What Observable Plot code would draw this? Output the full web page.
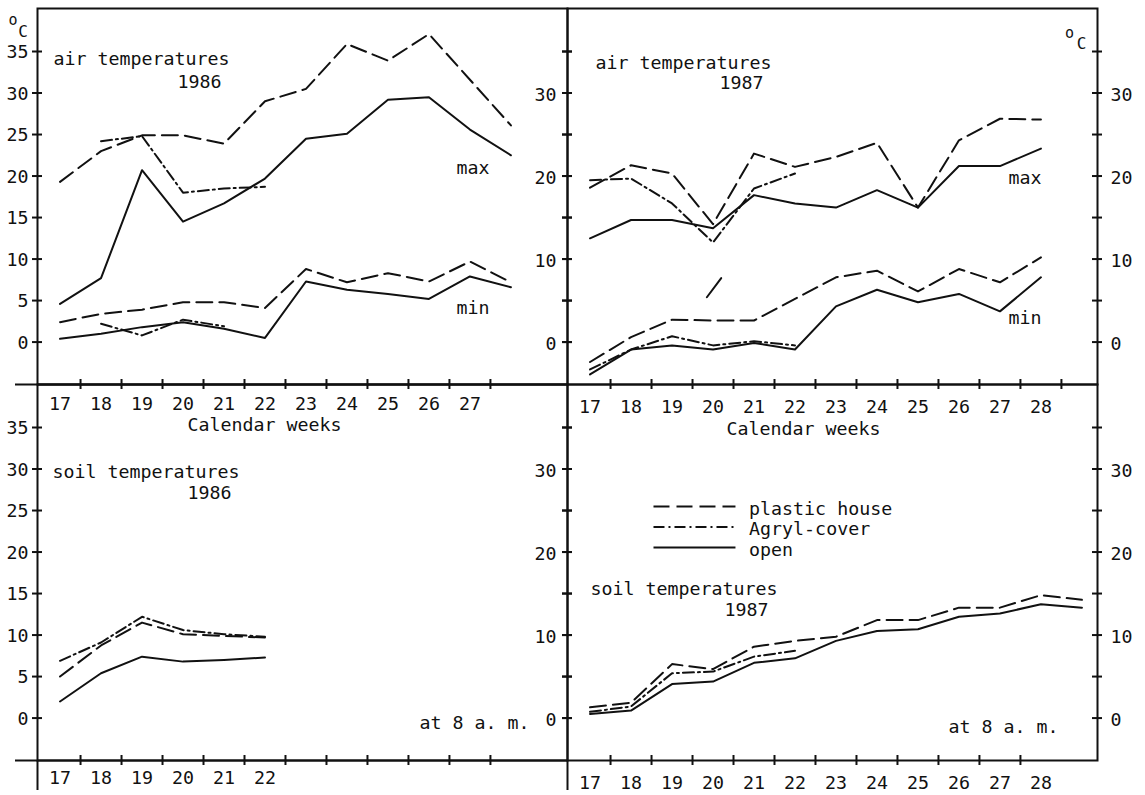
<!DOCTYPE html>
<html>
<head>
<meta charset="utf-8">
<script src="https://cdn.jsdelivr.net/npm/d3@7"></script>
<script src="https://cdn.jsdelivr.net/npm/@observablehq/plot@0.6"></script>
<style>
  html, body { margin: 0; padding: 0; background: #fff; }
  #chart { width: 1145px; height: 795px; }
</style>
</head>
<body>
<div id="chart"></div>
<script>
// ---------------- DATA ----------------
const years = [1986, 1987];
const kinds = ["air", "soil"];

const weeks1986 = [17, 18, 19, 20, 21, 22, 23, 24, 25, 26, 27, 28];
const weeks1987 = [17, 18, 19, 20, 21, 22, 23, 24, 25, 26, 27, 28];
const weeksSoil1986 = [17, 18, 19, 20, 21, 22];
const weeksSoil1987 = [17, 18, 19, 20, 21, 22, 23, 24, 25, 26, 27, 28, 29];

// air temperatures 1986
const air1986MaxPlastic = [19.3, 23.0, 24.9, 24.9, 23.9, 29.0, 30.5, 35.9, 33.9, 37.1, 31.6, 26.1];
const air1986MaxAgrylWeeks = [18, 19, 20, 21, 22];
const air1986MaxAgryl = [24.2, 24.8, 18.0, 18.5, 18.7];
const air1986MaxOpen = [4.6, 7.7, 20.7, 14.5, 16.7, 19.7, 24.5, 25.1, 29.2, 29.5, 25.6, 22.5];
const air1986MinPlastic = [2.4, 3.4, 3.9, 4.8, 4.8, 4.1, 8.8, 7.2, 8.3, 7.3, 9.7, 7.2];
const air1986MinAgrylWeeks = [18, 19, 20, 21];
const air1986MinAgryl = [2.2, 0.8, 2.7, 1.9];
const air1986MinOpen = [0.4, 1.0, 1.8, 2.4, 1.6, 0.5, 7.3, 6.3, 5.8, 5.2, 7.9, 6.6];

// air temperatures 1987
const air1987MaxPlastic = [18.6, 21.3, 20.3, 14.2, 22.7, 21.1, 22.3, 24.0, 16.2, 24.3, 26.9, 26.8];
const air1987MaxAgrylWeeks = [17, 18, 19, 20, 21, 22];
const air1987MaxAgryl = [19.5, 19.7, 16.7, 12.0, 18.5, 20.3];
const air1987MaxOpen = [12.5, 14.7, 14.7, 13.7, 17.7, 16.7, 16.2, 18.3, 16.2, 21.2, 21.2, 23.3];
const air1987MinPlastic = [-2.4, 0.6, 2.7, 2.6, 2.6, 5.2, 7.8, 8.6, 6.1, 8.8, 7.2, 10.2];
const air1987MinAgrylWeeks = [17, 18, 19, 20, 21, 22];
const air1987MinAgryl = [-3.3, -0.9, 0.7, -0.4, 0.1, -0.4];
const air1987MinOpen = [-3.9, -0.9, -0.4, -0.9, -0.1, -0.9, 4.3, 6.3, 4.8, 5.8, 3.7, 7.8];
// stray dash in the 1987 panel near week 20
const strayWeeks = [19.85, 20.2];
const strayValues = [5.4, 7.7];

// soil temperatures at 8 a.m.
const soil1986Plastic = [5.0, 8.75, 11.5, 10.1, 9.9, 9.7];
const soil1986Agryl = [6.9, 9.1, 12.2, 10.6, 10.1, 9.8];
const soil1986Open = [2.0, 5.4, 7.4, 6.8, 7.0, 7.3];
const soil1987Plastic = [1.3, 1.85, 6.5, 5.9, 8.6, 9.3, 9.8, 11.8, 11.8, 13.3, 13.3, 14.8, 14.25];
const soil1987AgrylWeeks = [17, 18, 19, 20, 21, 22];
const soil1987Agryl = [0.75, 1.4, 5.4, 5.6, 7.4, 8.1];
const soil1987Open = [0.5, 0.9, 4.1, 4.4, 6.65, 7.2, 9.3, 10.5, 10.7, 12.2, 12.6, 13.7, 13.3];

// axes
const yTicks = [0, 5, 10, 15, 20, 25, 30, 35];
const yLabelsLeft = [0, 5, 10, 15, 20, 25, 30, 35];
const yLabelsRight = [0, 10, 20, 30];
const xTicksAir1986 = [17.5, 18.5, 19.5, 20.5, 21.5, 22.5, 23.5, 24.5, 25.5, 26.5, 27.5];
const xTicksAir1987 = [17.5, 18.5, 19.5, 20.5, 21.5, 22.5, 23.5, 24.5, 25.5, 26.5, 27.5, 28.5];
const xTicksSoil1986 = [17.5, 18.5, 19.5, 20.5, 21.5, 22.5, 23.5, 24.5, 25.5, 26.5, 27.5];
const xTicksSoil1987 = [17.5, 18.5, 19.5, 20.5, 21.5, 22.5, 23.5, 24.5, 25.5, 26.5, 27.5];
const weekLabelsAir1986 = [17, 18, 19, 20, 21, 22, 23, 24, 25, 26, 27];
const weekLabelsAir1987 = [17, 18, 19, 20, 21, 22, 23, 24, 25, 26, 27, 28];
const weekLabelsSoil1986 = [17, 18, 19, 20, 21, 22];
const weekLabelsSoil1987 = [17, 18, 19, 20, 21, 22, 23, 24, 25, 26, 27, 28];

// texts
const titles = {air: "air temperatures", soil: "soil temperatures"};
const xTitle = "Calendar weeks";
const unitO = "o", unitC = "C";
const statLabels = ["max", "min"];
const timeNote = "at 8 a. m.";
const legendSeries = ["plastic", "agryl", "open"];
const legendLabels = ["plastic house", "Agryl-cover", "open"];

// ---------------- BUILD TABLES ----------------
const rows = [];
function add(year, kind, stat, series, weeks, values) {
  weeks.forEach((w, i) => rows.push({year, kind, stat, series, week: w, value: values[i]}));
}
add(1986, "air", "max", "plastic", weeks1986, air1986MaxPlastic);
add(1986, "air", "max", "agryl", air1986MaxAgrylWeeks, air1986MaxAgryl);
add(1986, "air", "max", "open", weeks1986, air1986MaxOpen);
add(1986, "air", "min", "plastic", weeks1986, air1986MinPlastic);
add(1986, "air", "min", "agryl", air1986MinAgrylWeeks, air1986MinAgryl);
add(1986, "air", "min", "open", weeks1986, air1986MinOpen);
add(1987, "air", "max", "plastic", weeks1987, air1987MaxPlastic);
add(1987, "air", "max", "agryl", air1987MaxAgrylWeeks, air1987MaxAgryl);
add(1987, "air", "max", "open", weeks1987, air1987MaxOpen);
add(1987, "air", "min", "plastic", weeks1987, air1987MinPlastic);
add(1987, "air", "min", "agryl", air1987MinAgrylWeeks, air1987MinAgryl);
add(1987, "air", "min", "open", weeks1987, air1987MinOpen);
add(1987, "air", "stray", "stray", strayWeeks, strayValues);
add(1986, "soil", "soil", "plastic", weeksSoil1986, soil1986Plastic);
add(1986, "soil", "soil", "agryl", weeksSoil1986, soil1986Agryl);
add(1986, "soil", "soil", "open", weeksSoil1986, soil1986Open);
add(1987, "soil", "soil", "plastic", weeksSoil1987, soil1987Plastic);
add(1987, "soil", "soil", "agryl", soil1987AgrylWeeks, soil1987Agryl);
add(1987, "soil", "soil", "open", weeksSoil1987, soil1987Open);

const xTickRows = [];
[[1986, "air", xTicksAir1986], [1987, "air", xTicksAir1987], [1986, "soil", xTicksSoil1986], [1987, "soil", xTicksSoil1987]]
  .forEach(([year, kind, arr]) => arr.forEach(w => xTickRows.push({year, kind, week: w})));

const yLeftRows = [], yMidRows = [], yRightRows = [];
kinds.forEach(kind => {
  yLabelsLeft.forEach(v => yLeftRows.push({year: 1986, kind, v}));
  yLabelsRight.forEach(v => yMidRows.push({year: 1986, kind, v}));
  yLabelsRight.forEach(v => yRightRows.push({year: 1987, kind, v}));
});

// ---------------- LAYOUT / STYLE ----------------
const W = 1145, H = 795;
const ML = 37, MR = 48, MT = 8, MB = 35;
const FW = (W - ML - MR) / 2;   // facet width
const FH = (H - MT - MB) / 2;   // facet height
const xDomain = [16.45, 29.38];
const yDomain = [-5.11, 40.18];
const INK = "#111";
const FS = 18.3;
const FONT = "DejaVu Sans Mono, Liberation Mono, monospace";
const dashes = {plastic: "16,7", agryl: "11,4,2,4", open: null, stray: null};
const TICK = 5;

function note(txt, year, kind, frameAnchor, dx, dy, extra = {}) {
  return Plot.text([txt], {
    fx: [year], fy: [kind], text: d => d, frameAnchor, dx, dy,
    textAnchor: "start", lineAnchor: "middle", fontSize: FS, fill: INK, ...extra
  });
}

const marks = [];

// frames of the four panels
marks.push(Plot.frame({stroke: INK, strokeWidth: 2}));

// axis extensions (left of the x axes, below the bottom panels)
marks.push(Plot.ruleY(kinds.map(k => ({year: 1986, kind: k})), {
  y: () => yDomain[0], fx: "year", fy: "kind", insetLeft: -22, insetRight: 0, stroke: INK, strokeWidth: 2
}));
marks.push(Plot.ruleX(years.map(y => ({year: y, kind: "soil"})), {
  x: () => xDomain[0], fx: "year", fy: "kind", insetTop: FH, insetBottom: -30, stroke: INK, strokeWidth: 2
}));

// y ticks on both sides of every panel
marks.push(Plot.ruleY(yTicks, {insetLeft: -TICK, insetRight: FW - TICK, stroke: INK, strokeWidth: 2}));
marks.push(Plot.ruleY(yTicks, {insetLeft: FW - TICK, insetRight: -TICK, stroke: INK, strokeWidth: 2}));

// x ticks
marks.push(Plot.ruleX(xTickRows, {x: "week", fx: "year", fy: "kind", insetTop: FH - TICK, insetBottom: -TICK, stroke: INK, strokeWidth: 2}));

// y labels
marks.push(Plot.text(yLeftRows, {y: "v", text: d => String(d.v), fx: "year", fy: "kind", frameAnchor: "left", textAnchor: "end", dx: -9, dy: 1, fontSize: FS, fill: INK}));
marks.push(Plot.text(yMidRows, {y: "v", text: d => String(d.v), fx: "year", fy: "kind", frameAnchor: "right", textAnchor: "end", dx: -11, dy: 2, fontSize: FS, fill: INK}));
marks.push(Plot.text(yRightRows, {y: "v", text: d => String(d.v), fx: "year", fy: "kind", frameAnchor: "right", textAnchor: "start", dx: 13, dy: 2, fontSize: FS, fill: INK}));

// week labels
[[1986, "air", weekLabelsAir1986, 20], [1987, "air", weekLabelsAir1987, 23],
 [1986, "soil", weekLabelsSoil1986, 18], [1987, "soil", weekLabelsSoil1987, 23]].forEach(([year, kind, arr, dy]) => {
  marks.push(Plot.text(arr, {x: d => d, text: d => String(d), fx: arr.map(() => year), fy: arr.map(() => kind),
    frameAnchor: "bottom", lineAnchor: "middle", dy, fontSize: FS, fill: INK}));
});

// x titles (under the top panels)
marks.push(note(xTitle, 1986, "air", "bottom-left", 227, 41, {textAnchor: "middle"}));
marks.push(note(xTitle, 1987, "air", "bottom-left", 236, 45, {textAnchor: "middle"}));

// unit labels
marks.push(note(unitO, 1986, "air", "top-left", -24.5, 12, {textAnchor: "middle", fontSize: 15}));
marks.push(note(unitC, 1986, "air", "top-left", -14.5, 23, {textAnchor: "middle", fontSize: 16}));
marks.push(note(unitO, 1987, "air", "top-right", -28, 25, {textAnchor: "middle", fontSize: 15}));
marks.push(note(unitC, 1987, "air", "top-right", -16, 35, {textAnchor: "middle", fontSize: 16}));

// panel titles
marks.push(note(titles.air, 1986, "air", "top-left", 16, 51));
marks.push(note("1986", 1986, "air", "top-left", 140, 74));
marks.push(note(titles.air, 1987, "air", "top-left", 28, 55));
marks.push(note("1987", 1987, "air", "top-left", 152, 75));
marks.push(note(titles.soil, 1986, "soil", "top-left", 15, 88));
marks.push(note("1986", 1986, "soil", "top-left", 150, 109));
marks.push(note(titles.soil, 1987, "soil", "top-left", 23, 205));
marks.push(note("1987", 1987, "soil", "top-left", 157, 226));

// max / min labels
marks.push(note(statLabels[0], 1986, "air", "top-left", 435.5, 160, {textAnchor: "middle"}));
marks.push(note(statLabels[1], 1986, "air", "top-left", 435.5, 300, {textAnchor: "middle"}));
marks.push(note(statLabels[0], 1987, "air", "top-left", 457.5, 170, {textAnchor: "middle"}));
marks.push(note(statLabels[1], 1987, "air", "top-left", 457.5, 310, {textAnchor: "middle"}));

// time notes
marks.push(note(timeNote, 1986, "soil", "bottom-right", -38, -37, {textAnchor: "end"}));
marks.push(note(timeNote, 1987, "soil", "bottom-right", -39, -33, {textAnchor: "end"}));

// data lines
["plastic", "agryl", "open", "stray"].forEach(s => {
  marks.push(Plot.line(rows.filter(d => d.series === s), {
    x: "week", y: "value", z: "stat", fx: "year", fy: "kind",
    stroke: INK, strokeWidth: 2, strokeDasharray: dashes[s], strokeLinejoin: "round"
  }));
});

// legend (bottom-right panel)
const legX1 = 18.56, legX2 = 20.56, legTextX = 20.88, legY0 = 25.48, legStep = 2.47;
legendSeries.forEach((s, i) => {
  marks.push(Plot.ruleY([legY0 - i * legStep], {x1: legX1, x2: legX2, fx: [1987], fy: ["soil"],
    stroke: INK, strokeWidth: 2, strokeDasharray: dashes[s]}));
  marks.push(Plot.text([legendLabels[i]], {x: legTextX, y: legY0 - i * legStep - 0.28, text: d => d,
    fx: [1987], fy: ["soil"], textAnchor: "start", lineAnchor: "middle", fontSize: FS, fill: INK}));
});

const chart = Plot.plot({
  width: W, height: H,
  marginLeft: ML, marginRight: MR, marginTop: MT, marginBottom: MB,
  style: {fontFamily: FONT, background: "#fff", color: INK},
  x: {domain: xDomain, axis: null},
  y: {domain: yDomain, axis: null},
  fx: {domain: years, padding: 0, axis: null},
  fy: {domain: kinds, padding: 0, axis: null},
  marks
});
document.getElementById("chart").appendChild(chart);
</script>
</body>
</html>
